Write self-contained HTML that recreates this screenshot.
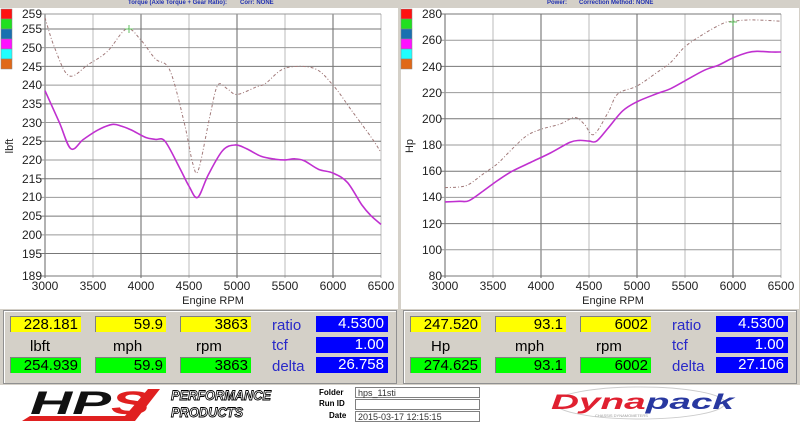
<!DOCTYPE html>
<html><head><meta charset="utf-8">
<style>
*{margin:0;padding:0;box-sizing:border-box}
body{width:800px;height:423px;background:#d4d0c8;position:relative;overflow:hidden;font-family:"Liberation Sans",sans-serif}
.abs{position:absolute}
.box{position:absolute;height:16px;font-size:15px;text-align:right;padding-right:3px;line-height:16px;color:#000;border-top:1px solid #808080;border-left:1px solid #808080}
.y{background:#ffff00}.g{background:#00ff00}
.b{position:absolute;height:16px;background:#0000ff;color:#fff;font-size:15px;text-align:right;padding-right:4px;line-height:16px;width:72px}
.lbl{position:absolute;font-size:15px;color:#000}
.bl{position:absolute;font-size:15px;color:#2828c8}
.sm{position:absolute;font-size:8px;font-weight:bold;color:#000}
.inp{position:absolute;height:11px;border:1px solid #808080;background:#fff;font-size:9px;line-height:10px;padding-left:2px;color:#333}
</style></head><body>
<div class="abs" style="left:0;top:0;width:800px;height:8px;font-size:6px;font-weight:bold;color:#2030b0">
<span class="abs" style="left:128px;top:0">Torque (Axle Torque + Gear Ratio):</span>
<span class="abs" style="left:240px;top:0">Corr: NONE</span>
<span class="abs" style="left:547px;top:0">Power:</span>
<span class="abs" style="left:579px;top:0">Correction Method: NONE</span>
</div>
<svg class="abs" style="left:0;top:0" width="800" height="310" xmlns="http://www.w3.org/2000/svg" font-family="Liberation Sans, sans-serif">
<rect x="0" y="8" width="398" height="301" fill="#fff"/>
<rect x="401" y="8" width="398" height="301" fill="#fff"/>
<g id="gl"></g>
<g id="gr"></g>
<g fill="none">
<path id="ld" stroke="#a07878" stroke-width="1" stroke-dasharray="3,2,1,2"/>
<path id="lm" stroke="#c030d0" stroke-width="1.6"/>
<path id="rd" stroke="#a07878" stroke-width="1" stroke-dasharray="3,2,1,2"/>
<path id="rm" stroke="#c030d0" stroke-width="1.6"/>
</g>
<path d="M125 29h8M129 25v8" stroke="#60c060" stroke-width="1"/>
<path d="M729 22h8M733 18v8" stroke="#60c060" stroke-width="1"/>
<g font-size="12" fill="#222" text-anchor="end">
<text x="42" y="18">259</text><text x="42" y="33">255</text><text x="42" y="52">250</text><text x="42" y="71">245</text><text x="42" y="89">240</text><text x="42" y="108">235</text><text x="42" y="127">230</text><text x="42" y="145">225</text><text x="42" y="164">220</text><text x="42" y="183">215</text><text x="42" y="201">210</text><text x="42" y="220">205</text><text x="42" y="239">200</text><text x="42" y="258">195</text><text x="42" y="280">189</text>
<text x="442" y="18">280</text><text x="442" y="44">260</text><text x="442" y="71">240</text><text x="442" y="97">220</text><text x="442" y="123">200</text><text x="442" y="149">180</text><text x="442" y="175">160</text><text x="442" y="201">140</text><text x="442" y="228">120</text><text x="442" y="254">100</text><text x="442" y="280">80</text>
</g>
<g font-size="12" fill="#222" text-anchor="middle">
<text x="45" y="290">3000</text><text x="93" y="290">3500</text><text x="141" y="290">4000</text><text x="189" y="290">4500</text><text x="237" y="290">5000</text><text x="285" y="290">5500</text><text x="333" y="290">6000</text><text x="381" y="290">6500</text>
<text x="445" y="290">3000</text><text x="493" y="290">3500</text><text x="541" y="290">4000</text><text x="589" y="290">4500</text><text x="637" y="290">5000</text><text x="685" y="290">5500</text><text x="733" y="290">6000</text><text x="781" y="290">6500</text>
<text x="213" y="304" font-size="11">Engine RPM</text><text x="613" y="304" font-size="11">Engine RPM</text>
</g>
<text transform="translate(13,146) rotate(-90)" font-size="11" fill="#222" text-anchor="middle">lbft</text>
<text transform="translate(413,146) rotate(-90)" font-size="11" fill="#222" text-anchor="middle">Hp</text>
<g stroke="#888" stroke-width="0.5">
<rect x="1" y="9" width="11" height="10" fill="#ff1010"/><rect x="1" y="19" width="11" height="10" fill="#20e020"/><rect x="1" y="29" width="11" height="10" fill="#1870b0"/><rect x="1" y="39" width="11" height="10" fill="#ff10ff"/><rect x="1" y="49" width="11" height="10" fill="#20ffff"/><rect x="1" y="59" width="11" height="10" fill="#e06818"/>
<rect x="401" y="9" width="11" height="10" fill="#ff1010"/><rect x="401" y="19" width="11" height="10" fill="#20e020"/><rect x="401" y="29" width="11" height="10" fill="#1870b0"/><rect x="401" y="39" width="11" height="10" fill="#ff10ff"/><rect x="401" y="49" width="11" height="10" fill="#20ffff"/><rect x="401" y="59" width="11" height="10" fill="#e06818"/>
</g>
</svg>
<div class="abs" style="left:3px;top:310px;width:394px;height:74px;border:1px solid #909090;box-shadow:inset 1px 1px 0 #fff"></div>
<div class="abs" style="left:403px;top:310px;width:394px;height:74px;border:1px solid #909090;box-shadow:inset 1px 1px 0 #fff"></div>
<div class="box y" style="left:10px;top:316px;width:71px">228.181</div>
<div class="box y" style="left:95px;top:316px;width:71px">59.9</div>
<div class="box y" style="left:180px;top:316px;width:71px">3863</div>
<div class="lbl" style="left:30px;top:338px">lbft</div><div class="lbl" style="left:113px;top:338px">mph</div><div class="lbl" style="left:196px;top:338px">rpm</div>
<div class="box g" style="left:10px;top:357px;width:71px">254.939</div>
<div class="box g" style="left:95px;top:357px;width:71px">59.9</div>
<div class="box g" style="left:180px;top:357px;width:71px">3863</div>
<div class="bl" style="left:272px;top:317px">ratio</div><div class="bl" style="left:272px;top:337px">tcf</div><div class="bl" style="left:272px;top:358px">delta</div>
<div class="b" style="left:316px;top:316px">4.5300</div><div class="b" style="left:316px;top:337px">1.00</div><div class="b" style="left:316px;top:357px">26.758</div>
<div class="box y" style="left:410px;top:316px;width:71px">247.520</div>
<div class="box y" style="left:495px;top:316px;width:71px">93.1</div>
<div class="box y" style="left:580px;top:316px;width:71px">6002</div>
<div class="lbl" style="left:431px;top:338px">Hp</div><div class="lbl" style="left:515px;top:338px">mph</div><div class="lbl" style="left:596px;top:338px">rpm</div>
<div class="box g" style="left:410px;top:357px;width:71px">274.625</div>
<div class="box g" style="left:495px;top:357px;width:71px">93.1</div>
<div class="box g" style="left:580px;top:357px;width:71px">6002</div>
<div class="bl" style="left:672px;top:317px">ratio</div><div class="bl" style="left:672px;top:337px">tcf</div><div class="bl" style="left:672px;top:358px">delta</div>
<div class="b" style="left:716px;top:316px">4.5300</div><div class="b" style="left:716px;top:337px">1.00</div><div class="b" style="left:716px;top:357px">27.106</div>
<div class="abs" style="left:0;top:385px;width:800px;height:38px;background:#fff"></div>
<svg class="abs" style="left:0;top:385px" width="800" height="38">
<polygon points="22,36 135,36 160,4 148,4 125,31 30,31" fill="#e02020"/>
<text x="30" y="29" font-family="Liberation Sans,sans-serif" font-size="32" font-weight="bold" font-style="italic" fill="#111" textLength="120" lengthAdjust="spacingAndGlyphs">HP<tspan fill="#e02020">S</tspan></text>
<g font-family="Liberation Sans,sans-serif" font-size="14" font-style="italic" font-weight="bold" fill="#fff" stroke="#000" stroke-width="0.9">
<text x="171" y="15" textLength="100" lengthAdjust="spacingAndGlyphs">PERFORMANCE</text>
<text x="171" y="32" textLength="72" lengthAdjust="spacingAndGlyphs">PRODUCTS</text></g>
<ellipse cx="640" cy="18" rx="85" ry="16" fill="none" stroke="#ccc"/>
<text x="551" y="24" font-family="Liberation Sans,sans-serif" font-size="21" font-weight="bold" font-style="italic" textLength="183" lengthAdjust="spacingAndGlyphs"><tspan fill="#e02030">Dyna</tspan><tspan fill="#2838a0">pack</tspan></text>
<text x="595" y="32" font-family="Liberation Sans,sans-serif" font-size="4" fill="#999">CHASSIS DYNAMOMETERS</text>
</svg>
<div class="sm" style="left:319px;top:388px">Folder</div><div class="sm" style="left:319px;top:399px">Run ID</div><div class="sm" style="left:329px;top:411px">Date</div>
<div class="inp" style="left:355px;top:387px;width:125px">hps_11sti</div>
<div class="inp" style="left:355px;top:399px;width:125px"></div>
<div class="inp" style="left:355px;top:411px;width:125px">2015-03-17 12:15:15</div>
<script>
function grid(id,x0,yTop,yBot,ys){var g=document.getElementById(id),s='';
for(var i=0;i<8;i++){var x=x0+i*48;s+='<line x1="'+x+'" y1="'+yTop+'" x2="'+x+'" y2="'+yBot+'" stroke="'+(i%2?'#bbb':'#888')+'" stroke-width="'+(i%2?1:1.3)+'"/>';}
ys.forEach(function(y,i){s+='<line x1="'+(x0-4)+'" y1="'+y+'" x2="'+(x0+336)+'" y2="'+y+'" stroke="'+(i%2?'#999':'#777')+'" stroke-width="1"/>';});
g.innerHTML=s;}
var ly=[];for(var v=255;v>=195;v-=5)ly.push(14+(259-v)*3.743);ly.push(14,276);
grid('gl',45,14,278,ly);
var ry=[];for(var v=280;v>=80;v-=20)ry.push(14+(280-v)*1.31);
grid('gr',445,14,278,ry);
function path(id,pts,x0,f){var p=pts.map(function(a){return[x0+(a[0]-3000)*0.096,f(a[1])]});
var d='M'+p[0][0]+' '+p[0][1];for(var i=0;i<p.length-1;i++){var a=p[i-1]||p[i],b=p[i],c=p[i+1],e=p[i+2]||c;
d+=' C'+(b[0]+(c[0]-a[0])/6)+' '+(b[1]+(c[1]-a[1])/6)+' '+(c[0]-(e[0]-b[0])/6)+' '+(c[1]-(e[1]-b[1])/6)+' '+c[0]+' '+c[1];}
document.getElementById(id).setAttribute('d',d);}
var fl=function(v){return 14+(259-v)*3.743},fr=function(v){return 14+(280-v)*1.31};
path('lm',[[3000,238.5],[3150,230],[3270,223],[3400,225.5],[3550,228],[3700,229.5],[3800,229],[3900,228],[4050,226],[4150,225.5],[4250,225],[4400,218],[4500,213],[4590,210],[4700,216],[4850,222.5],[4980,224],[5100,223],[5250,221],[5400,220.2],[5500,220],[5600,220.3],[5700,219.8],[5850,217.5],[6000,216.5],[6150,214],[6300,208],[6400,205],[6500,202.8]],45,fl);
path('ld',[[3000,258],[3100,250],[3250,242.5],[3450,245.5],[3650,249],[3850,255],[4000,252],[4150,247],[4300,244],[4450,230],[4540,219],[4600,217.5],[4720,232],[4800,240],[4900,239],[5000,237.5],[5200,239.5],[5300,240.5],[5500,244.5],[5800,244.5],[6000,240],[6200,233],[6400,226],[6500,222]],45,fl);
path('rm',[[3000,136.5],[3150,137],[3250,137.5],[3400,145],[3550,153],[3700,160],[3900,167],[4100,174],[4300,182],[4400,183.5],[4500,183],[4580,183],[4700,193],[4850,206],[5000,213],[5200,219],[5350,223],[5500,229],[5700,237],[5850,241],[6000,246.5],[6150,250.5],[6250,251.5],[6400,251],[6500,251]],445,fr);
path('rd',[[3000,147.5],[3150,148],[3250,150],[3400,158],[3550,166],[3700,177],[3850,187],[4000,192],[4200,196],[4350,201],[4450,196],[4550,188],[4700,205],[4800,219],[5000,225],[5200,235],[5350,243],[5500,255],[5700,265],[5900,273],[6000,274.5],[6200,275.5],[6500,274.5]],445,fr);
</script>
</body></html>
